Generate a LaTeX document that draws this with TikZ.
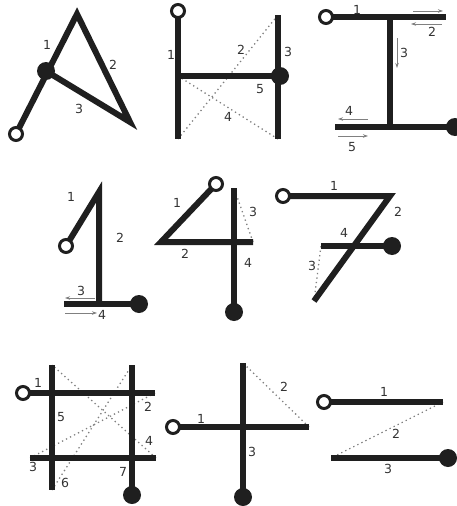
\documentclass[tikz,border=0pt]{standalone}
\usepackage{fontspec}
\setmainfont{DejaVu Sans}
\usetikzlibrary{arrows.meta}
\begin{document}
\begin{tikzpicture}[
    x=1pt, y=-1pt,
    every node/.style={font=\fontsize{12.5}{13}\selectfont, text=black!80, inner sep=0pt},
    stroke/.style={line width=6pt, draw=black!88},
    hint/.style={draw=black!50, line width=1.3pt, dash pattern=on 1.3pt off 3.2pt},
    move/.style={draw=black!50, line width=0.7pt, -{Stealth[length=5pt, width=3.5pt]}},
    startdot/.style={circle, draw=black!88, fill=white, line width=3pt, minimum size=13pt},
    enddot/.style={circle, fill=black!88, minimum size=18pt},
  ]
\useasboundingbox (0,0) rectangle (456,506);

% --- Row 1, Col 1: A
\coordinate (A0) at (16,134);
\coordinate (A1) at (77,14);
\coordinate (A2) at (130,122);
\coordinate (A3) at (46,71);
\draw[stroke] (A0) -- (A1) -- (A2) -- (A3);
\node[startdot] (As) at (A0) {};
\node[enddot] (Ae) at (A3) {};
\node (a1) at (47,45) {1};
\node (a2) at (113,65) {2};
\node (a3) at (79,109) {3};

% --- Row 1, Col 2: H
\coordinate (H0) at (178,11);
\coordinate (H1) at (178,139);
\coordinate (H2) at (278,15);
\coordinate (H3) at (278,139);
\coordinate (H4) at (178,76);
\coordinate (H5) at (280,76);
\draw[hint] (H1) -- (H2);
\draw[hint] (H3) -- (H4);
\draw[stroke] (H0) -- (H1);
\draw[stroke] (H2) -- (H3);
\draw[stroke] (H4) -- (H5);
\node[startdot] (Hs) at (H0) {};
\node[enddot] (He) at (H5) {};
\node (h1) at (171,55) {1};
\node (h2) at (241,50) {2};
\node (h3) at (288,52) {3};
\node (h4) at (228,117) {4};
\node (h5) at (260,89) {5};

% --- Row 1, Col 3: I
\coordinate (I0) at (326,17);
\coordinate (I1) at (446,17);
\coordinate (I2) at (390,17);
\coordinate (I3) at (390,127);
\coordinate (I4) at (335,127);
\coordinate (I5) at (455,127);
\draw[stroke] (I0) -- (I1);
\draw[stroke] (I2) -- (I3);
\draw[stroke] (I4) -- (I5);
\coordinate (i1a) at (413,11);  \coordinate (i1b) at (443,11);
\coordinate (i2a) at (442,24);  \coordinate (i2b) at (411,24);
\coordinate (i3a) at (397,38);  \coordinate (i3b) at (397,68);
\coordinate (i4a) at (368,119); \coordinate (i4b) at (338,119);
\coordinate (i5a) at (338,136); \coordinate (i5b) at (368,136);
\draw[move] (i1a) -- (i1b);
\draw[move] (i2a) -- (i2b);
\draw[move] (i3a) -- (i3b);
\draw[move] (i4a) -- (i4b);
\draw[move] (i5a) -- (i5b);
\node[startdot] (Is) at (I0) {};
\node[enddot] (Ie) at (I5) {};
\node (i1) at (357,10) {1};
\node (i2) at (432,32) {2};
\node (i3) at (404,53) {3};
\node (i4) at (349,111) {4};
\node (i5) at (352,147) {5};

% --- Row 2, Col 1: 1
\coordinate (P0) at (66,246);
\coordinate (P1) at (99,192);
\coordinate (P2) at (99,304);
\coordinate (P3) at (64,304);
\coordinate (P4) at (139,304);
\draw[stroke] (P0) -- (P1) -- (P2);
\draw[stroke] (P3) -- (P4);
\coordinate (p3a) at (95,298); \coordinate (p3b) at (65,298);
\coordinate (p4a) at (65,313); \coordinate (p4b) at (97,313);
\draw[move] (p3a) -- (p3b);
\draw[move] (p4a) -- (p4b);
\node[startdot] (Ps) at (P0) {};
\node[enddot] (Pe) at (P4) {};
\node (p1) at (71,197) {1};
\node (p2) at (120,238) {2};
\node (p3) at (81,291) {3};
\node (p4) at (102,315) {4};

% --- Row 2, Col 2: 4
\coordinate (F0) at (216,184);
\coordinate (F1) at (161,242);
\coordinate (F2) at (253,242);
\coordinate (F3) at (234,188);
\coordinate (F4) at (234,312);
\draw[hint] (F2) -- (F3);
\draw[stroke] (F0) -- (F1) -- (F2);
\draw[stroke] (F3) -- (F4);
\node[startdot] (Fs) at (F0) {};
\node[enddot] (Fe) at (F4) {};
\node (f1) at (177,203) {1};
\node (f2) at (185,254) {2};
\node (f3) at (253,212) {3};
\node (f4) at (248,263) {4};

% --- Row 2, Col 3: 7
\coordinate (S0) at (283,196);
\coordinate (S1) at (390,196);
\coordinate (S2) at (314,301);
\coordinate (S3) at (321,246);
\coordinate (S4) at (392,246);
\draw[hint] (S2) -- (S3);
\draw[stroke] (S0) -- (S1) -- (S2);
\draw[stroke] (S3) -- (S4);
\node[startdot] (Ss) at (S0) {};
\node[enddot] (Se) at (S4) {};
\node (s1) at (334,186) {1};
\node (s2) at (398,212) {2};
\node (s3) at (312,266) {3};
\node (s4) at (344,233) {4};

% --- Row 3, Col 1: #
\coordinate (G0) at (23,393);
\coordinate (G1) at (155,393);
\coordinate (G2) at (30,458);
\coordinate (G3) at (156,458);
\coordinate (G4) at (52,365);
\coordinate (G5) at (52,490);
\coordinate (G6) at (132,365);
\coordinate (G7) at (132,495);
\draw[hint] (G1) -- (G2);
\draw[hint] (G3) -- (G4);
\draw[hint] (G5) -- (G6);
\draw[stroke] (G0) -- (G1);
\draw[stroke] (G2) -- (G3);
\draw[stroke] (G4) -- (G5);
\draw[stroke] (G6) -- (G7);
\node[startdot] (Gs) at (G0) {};
\node[enddot] (Ge) at (G7) {};
\node (g1) at (38,383) {1};
\node (g2) at (148,407) {2};
\node (g3) at (33,467) {3};
\node (g4) at (149,441) {4};
\node (g5) at (61,417) {5};
\node (g6) at (65,483) {6};
\node (g7) at (123,472) {7};

% --- Row 3, Col 2: +
\coordinate (C0) at (173,427);
\coordinate (C1) at (309,427);
\coordinate (C2) at (243,363);
\coordinate (C3) at (243,497);
\draw[hint] (C1) -- (C2);
\draw[stroke] (C0) -- (C1);
\draw[stroke] (C2) -- (C3);
\node[startdot] (Cs) at (C0) {};
\node[enddot] (Ce) at (C3) {};
\node (c1) at (201,419) {1};
\node (c2) at (284,387) {2};
\node (c3) at (252,452) {3};

% --- Row 3, Col 3: Z
\coordinate (Z0) at (324,402);
\coordinate (Z1) at (443,402);
\coordinate (Z2) at (331,458);
\coordinate (Z3) at (448,458);
\draw[hint] (Z1) -- (Z2);
\draw[stroke] (Z0) -- (Z1);
\draw[stroke] (Z2) -- (Z3);
\node[startdot] (Zs) at (Z0) {};
\node[enddot] (Ze) at (Z3) {};
\node (z1) at (384,392) {1};
\node (z2) at (396,434) {2};
\node (z3) at (388,469) {3};
\end{tikzpicture}
\end{document}
